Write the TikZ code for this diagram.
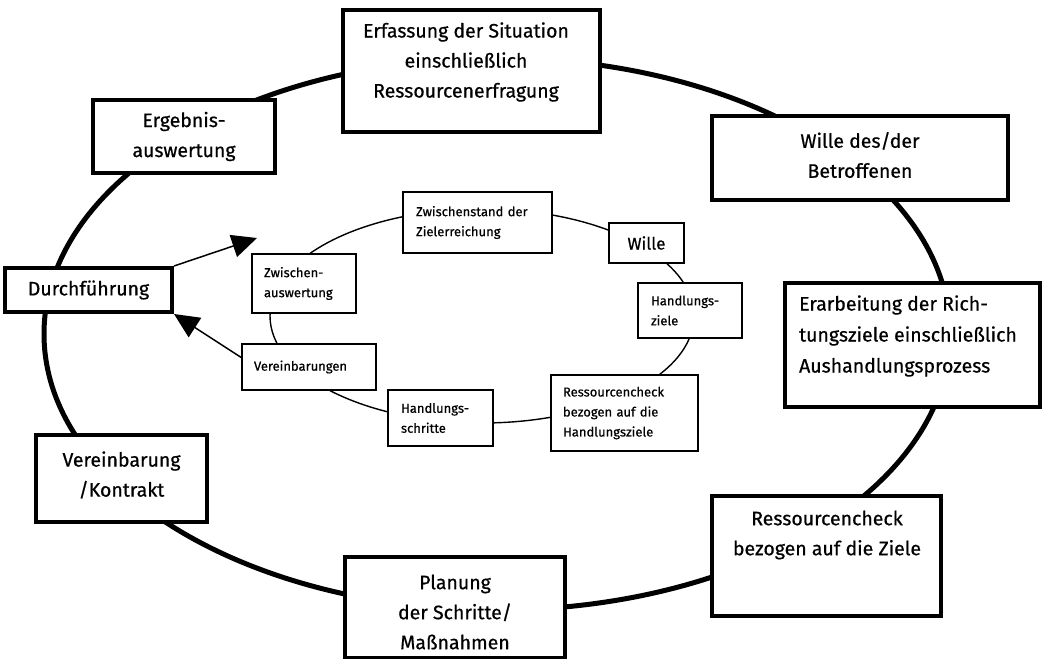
\documentclass[tikz,border=0pt]{standalone}
\usepackage{fontspec}
\setmainfont{Fira Sans}[FakeBold=0.6]
\usetikzlibrary{arrows.meta,calc}
\tikzset{
  outer/.style={line width=5pt},
  innerloop/.style={line width=1.4pt},
  bigbox/.style={draw, line width=4pt, fill=white, rectangle, inner sep=0pt},
  bigtext/.style={font=\fontsize{19.5}{30}\selectfont, align=center, inner sep=0pt},
  smallbox/.style={draw, line width=1.6pt, fill=white, rectangle, inner ysep=0pt,
    align=left, font=\fontsize{13}{20}\selectfont},
  flow/.style={line width=1.5pt, -{Triangle[length=25pt,width=23pt]}}
}
\begin{document}
\begin{tikzpicture}[x=1pt,y=-1pt]
\useasboundingbox (0,0) rectangle (1045,659);
% loops
\draw[outer] (497,334) ellipse [x radius=453pt, y radius=276pt];
\draw[innerloop] (482,316) ellipse [x radius=212pt, y radius=107pt];
% outer boxes
\node[bigbox, minimum width=257pt, minimum height=122pt] (erf) at (471.5,71) {};
\node[bigtext] (erft) at (466,62) {Erfassung der Situation\\einschließlich\\Ressourcenerfragung};
\node[bigbox, minimum width=182pt, minimum height=73pt, bigtext] (erg) at (184,136.5) {Ergebnis-\\auswertung};
\node[bigbox, minimum width=167pt, minimum height=44pt, bigtext] (dur) at (88.5,290) {Durchführung};
\node[bigbox, minimum width=296pt, minimum height=84pt] (wil) at (860,158) {};
\node[bigtext] (wilt) at (860,155) {Wille des/der\\Betroffenen};
\node[bigbox, minimum width=255pt, minimum height=124pt] (era) at (912.5,345) {};
\node[bigtext, align=left, font=\fontsize{19.5}{31}\selectfont] (erat) at (908,336) {Erarbeitung der Rich-\\tungsziele einschließlich\\Aushandlungsprozess};
\node[bigbox, minimum width=229pt, minimum height=120pt] (rco) at (826.5,556) {};
\node[bigtext] (rcot) at (827,535) {Ressourcencheck\\bezogen auf die Ziele};
\node[bigbox, minimum width=220pt, minimum height=101pt] (pla) at (455,607.5) {};
\node[bigtext] (plat) at (455,612) {Planung\\der Schritte/\\Maßnahmen};
\node[bigbox, minimum width=171pt, minimum height=87pt] (ver) at (121.5,478.5) {};
\node[bigtext] (vert) at (121.5,475) {Vereinbarung\\/Kontrakt};
% inner boxes
\node[smallbox, inner xsep=13pt, text width=123pt, minimum height=61pt] (zst) at (477.5,222.5) {Zwischenstand der\\Zielerreichung};
\node[smallbox, inner xsep=12pt, text width=80pt, minimum height=59pt] (zwa) at (304,283.5) {Zwischen-\\auswertung};
\node[smallbox, inner xsep=12pt, text width=110pt, minimum height=46pt] (vb) at (309,367) {Vereinbarungen};
\node[smallbox, inner xsep=13pt, text width=79pt, minimum height=56pt] (hs) at (440.5,418) {Handlungs-\\schritte};
\node[smallbox, inner xsep=12pt, text width=123pt, minimum height=76pt] (rci) at (624.5,413) {Ressourcencheck\\bezogen auf die\\Handlungsziele};
\node[smallbox, inner xsep=13pt, text width=78pt, minimum height=55pt] (hz) at (690,310.5) {Handlungs-\\ziele};
\node[smallbox, inner sep=0pt, align=center, minimum width=75pt, minimum height=40pt, font=\fontsize{17}{20}\selectfont] (wi) at (646.5,243) {Wille};
% arrows
\coordinate (tip) at (257,238);
\draw[flow] (dur.north east) -- (tip);
\draw[flow] ($(vb.north west)!0.3!(vb.south west)$) -- (dur.south east);
\end{tikzpicture}
\end{document}
